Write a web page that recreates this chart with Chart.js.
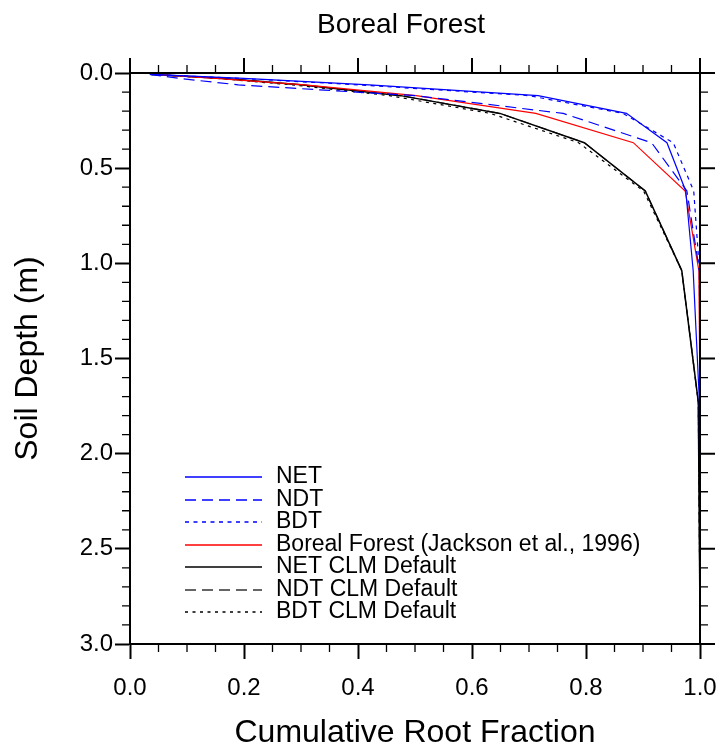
<!DOCTYPE html>
<html>
<head>
<meta charset="utf-8">
<script src="https://cdn.jsdelivr.net/npm/chart.js@4/dist/chart.umd.min.js"></script>
<style>
  html, body { margin: 0; padding: 0; background: #fff; }
  #wrap { width: 720px; height: 748px; }
</style>
</head>
<body>
<div id="wrap"><canvas id="chart" width="720" height="748"></canvas></div>
<script>
const FONT = "'Liberation Sans', Arial, Helvetica, sans-serif";

// soil layer depths (m)
const depth = [0.0071, 0.0279, 0.0623, 0.1189, 0.2122, 0.3661, 0.6198, 1.038, 1.7276, 2.8646];

// cumulative root fraction per series
const net = [0.035, 0.20, 0.42, 0.716, 0.871, 0.942, 0.975, 0.988, 0.999, 1.0];
const ndt = [0.035, 0.085, 0.19, 0.50, 0.76, 0.915, 0.977, 0.999, 1.0, 1.0];
const bdt = [0.035, 0.19, 0.40, 0.70, 0.865, 0.953, 0.989, 0.999, 1.0, 1.0];
const boreal = [0.041, 0.151, 0.306, 0.502, 0.712, 0.883, 0.974, 0.998, 1.0, 1.0];
const netClm = [0.035, 0.16, 0.30, 0.475, 0.649, 0.797, 0.904, 0.968, 0.997, 1.0];
const ndtClm = [0.035, 0.16, 0.30, 0.475, 0.649, 0.797, 0.904, 0.968, 0.997, 1.0];
const bdtClm = [0.035, 0.15, 0.285, 0.455, 0.632, 0.787, 0.901, 0.968, 0.997, 1.0];

const seriesNames = [
  "NET",
  "NDT",
  "BDT",
  "Boreal Forest (Jackson et al., 1996)",
  "NET CLM Default",
  "NDT CLM Default",
  "BDT CLM Default",
];

const xTicks = [0, 0.2, 0.4, 0.6, 0.8, 1.0];
const yTicks = [0, 0.5, 1.0, 1.5, 2.0, 2.5, 3.0];

function pts(xs) {
  return xs.map((x, i) => ({ x: x, y: depth[i] }));
}

const styles = [
  { color: "#0000ff", dash: [], width: 1.2 },
  { color: "#0000ff", dash: [11, 6], width: 1.2 },
  { color: "#0000ff", dash: [4, 4.5], width: 1.2 },
  { color: "#ff0000", dash: [], width: 1.2 },
  { color: "#000000", dash: [], width: 1.5 },
  { color: "#333333", dash: [11, 6], width: 1.2 },
  { color: "#000000", dash: [3, 4.5], width: 1.2 },
];

const allSeries = [net, ndt, bdt, boreal, netClm, ndtClm, bdtClm];

const datasets = allSeries.map((s, i) => ({
  label: seriesNames[i],
  data: pts(s),
  borderColor: styles[i].color,
  borderDash: styles[i].dash,
  borderWidth: styles[i].width,
  pointRadius: 0,
  tension: 0,
  fill: false,
}));

// minor ticks, top/right ticks, frame, title and legend
const extras = {
  id: "extras",
  afterDraw(chart) {
    const ctx = chart.ctx;
    const xs = chart.scales.x;
    const ys = chart.scales.y;
    const a = chart.chartArea;
    ctx.save();
    ctx.strokeStyle = "#000";

    // frame
    ctx.lineWidth = 2;
    ctx.strokeRect(a.left, a.top, a.right - a.left, a.bottom - a.top);

    // major ticks top / right
    ctx.lineWidth = 2;
    ctx.beginPath();
    xTicks.forEach((v) => {
      const px = xs.getPixelForValue(v);
      ctx.moveTo(px, a.top);
      ctx.lineTo(px, a.top - 15);
    });
    yTicks.forEach((v) => {
      const py = ys.getPixelForValue(v);
      ctx.moveTo(a.right, py);
      ctx.lineTo(a.right + 15, py);
    });
    ctx.stroke();

    // minor ticks
    ctx.lineWidth = 1.3;
    ctx.beginPath();
    for (let i = 1; i < 20; i++) {
      if (i % 4 === 0) continue;
      const px = xs.getPixelForValue(i * 0.05);
      ctx.moveTo(px, a.top);
      ctx.lineTo(px, a.top - 8);
      ctx.moveTo(px, a.bottom);
      ctx.lineTo(px, a.bottom + 8);
    }
    for (let i = 1; i < 30; i++) {
      if (i % 5 === 0) continue;
      const py = ys.getPixelForValue(i * 0.1);
      ctx.moveTo(a.left, py);
      ctx.lineTo(a.left - 8, py);
      ctx.moveTo(a.right, py);
      ctx.lineTo(a.right + 8, py);
    }
    ctx.stroke();

    // title
    ctx.fillStyle = "#000";
    ctx.font = "28px " + FONT;
    ctx.textAlign = "center";
    ctx.textBaseline = "middle";
    ctx.fillText("Boreal Forest", 401, 25);

    // legend
    ctx.font = "23px " + FONT;
    ctx.textAlign = "left";
    seriesNames.forEach((name, i) => {
      const st = styles[i];
      const y = Math.round(477 + i * 22.5);
      ctx.beginPath();
      ctx.strokeStyle = st.color;
      ctx.lineWidth = 1.5;
      ctx.setLineDash(st.dash);
      ctx.moveTo(185, y);
      ctx.lineTo(262, y);
      ctx.stroke();
      ctx.setLineDash([]);
      ctx.fillStyle = "#000";
      ctx.fillText(name, 276, y);
    });
    ctx.restore();
  },
};

new Chart(document.getElementById("chart"), {
  type: "line",
  data: { datasets: datasets },
  plugins: [extras],
  options: {
    responsive: false,
    animation: false,
    layout: { padding: { top: 73, right: 20, left: 0, bottom: 0 } },
    plugins: {
      legend: { display: false },
      tooltip: { enabled: false },
    },
    scales: {
      x: {
        type: "linear",
        position: "bottom",
        min: 0,
        max: 1,
        afterBuildTicks: (s) => { s.ticks = xTicks.map((v) => ({ value: v })); },
        afterFit: (s) => {
          s.height = 104;
          s.paddingLeft = 0;
          s.paddingRight = 0;
        },
        ticks: {
          color: "#000",
          font: { family: FONT, size: 24 },
          padding: 15,
          maxRotation: 0,
          autoSkip: false,
          callback: (v) => Number(v).toFixed(1),
        },
        grid: {
          drawOnChartArea: false,
          tickLength: 15,
          tickWidth: 2,
          tickColor: "#000",
        },
        border: { color: "#000", width: 2 },
        title: {
          display: true,
          text: "Cumulative Root Fraction",
          color: "#000",
          font: { family: FONT, size: 32, lineHeight: 0.95 },
          padding: { top: 0, bottom: 0 },
        },
      },
      y: {
        type: "linear",
        position: "left",
        reverse: true,
        min: 0,
        max: 3,
        afterBuildTicks: (s) => { s.ticks = yTicks.map((v) => ({ value: v })); },
        afterFit: (s) => {
          s.width = 130;
          s.paddingTop = 0;
          s.paddingBottom = 0;
        },
        ticks: {
          color: "#000",
          font: { family: FONT, size: 24 },
          padding: 2,
          autoSkip: false,
          callback: (v) => Number(v).toFixed(1),
        },
        grid: {
          drawOnChartArea: false,
          tickLength: 15,
          tickWidth: 2,
          tickColor: "#000",
        },
        border: { color: "#000", width: 2 },
        title: {
          display: true,
          text: "Soil Depth (m)",
          color: "#000",
          font: { family: FONT, size: 32 },
          padding: { top: 9, bottom: 0 },
        },
      },
    },
  },
});
</script>
</body>
</html>
